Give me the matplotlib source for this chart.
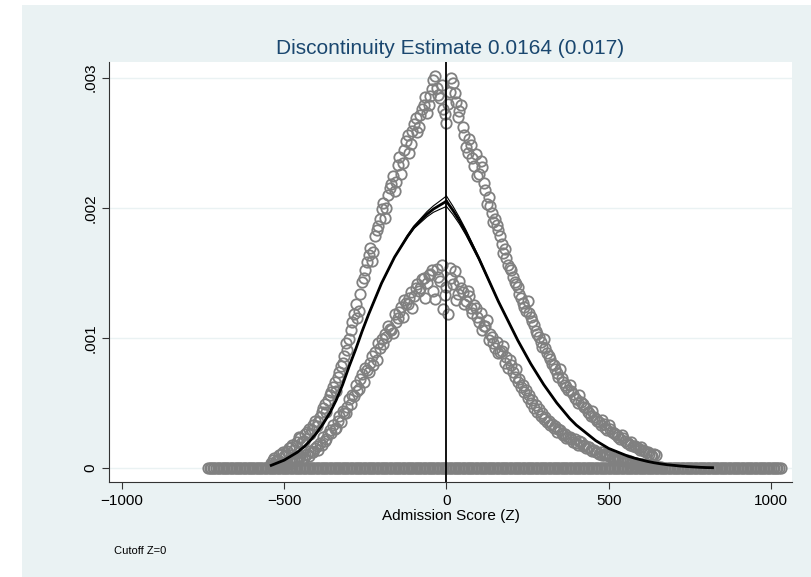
import matplotlib.pyplot as plt
import numpy as np
from matplotlib.patches import Rectangle

plt.rcParams['font.family'] = ['Liberation Sans', 'DejaVu Sans']

# Bin densities (units of 1e-4); two interleaved bin sets every 10 points
upper_start = -540
upper_vals = [0.4, 0.8, 0.6, 1.1, 0.9, 1.3, 1.6, 1.4, 2.0, 2.3, 2.1, 2.8, 2.6, 3.3, 3.2, 3.9, 4.6, 4.3, 5.6, 6.2,
              5.9, 7.4, 8.1, 9.6, 9.9, 11.2, 12.6, 12.1, 14.3, 15.2, 16.4, 15.9, 17.8, 18.6, 19.9, 19.2, 21.0, 21.8,
              21.3, 23.3, 22.6, 24.4, 25.6, 24.9, 26.4, 25.8, 27.1, 27.9, 27.3, 28.6, 29.8, 29.2, 28.4, 27.6, 26.5,
              28.9, 29.6, 28.1, 27.4, 26.2, 24.7, 25.3, 23.8, 24.1, 22.6, 23.1, 21.4, 20.8, 19.6, 19.1, 18.3, 17.2,
              16.8, 15.6, 15.2, 14.3, 13.9, 13.1, 12.4, 12.8, 11.6, 11.0, 10.3, 9.7, 9.9, 8.8, 8.4, 7.9, 7.3, 7.6,
              6.6, 6.2, 6.4, 5.7, 5.3, 5.6, 4.9, 4.6, 4.2, 4.4, 3.8, 3.5, 3.7, 3.1, 3.3, 2.8, 2.6, 2.4, 2.5, 2.1,
              1.9, 2.0, 1.7, 1.5, 1.6, 1.3, 1.2, 1.0, 1.1]
upper2_start = -535
upper2_vals = [0.6, 0.5, 1.0, 1.2, 1.0, 1.5, 1.8, 1.7, 2.4, 2.0, 2.6, 3.0, 2.9, 3.6, 3.5, 4.3, 4.9, 5.2, 5.8, 6.6,
               7.0, 7.8, 8.6, 9.1, 10.6, 11.8, 11.5, 13.4, 14.6, 15.8, 16.9, 16.6, 18.3, 19.1, 20.4, 20.0, 21.5,
               22.4, 22.0, 23.9, 23.4, 25.1, 24.2, 25.9, 26.9, 26.2, 27.6, 28.5, 27.9, 29.1, 30.1, 28.7, 29.4, 27.2,
               28.0, 30.0, 28.8, 27.0, 27.9, 25.6, 24.2, 24.8, 23.2, 22.4, 23.6, 21.9, 20.3, 20.1, 18.9, 18.7, 17.8,
               16.5, 16.1, 15.4, 14.7, 14.1, 13.4, 12.7, 12.1, 11.9, 11.3, 10.5, 10.1, 9.3, 9.2, 8.6, 8.0, 7.6, 7.0,
               6.9, 6.4, 6.0, 5.9, 5.4, 5.0, 5.1, 4.7, 4.3, 4.0, 3.9, 3.6, 3.3, 3.4, 2.9, 3.0, 2.7, 2.5, 2.2, 2.3,
               1.9, 1.8, 1.7, 1.6, 1.4, 1.4, 1.2, 1.1, 0.9, 1.0]
lower_start = -540
lower_vals = [0.2, 0.1, 0.3, 0.2, 0.4, 0.3, 0.6, 0.5, 0.7, 0.9, 0.8, 1.1, 1.3, 1.2, 1.7, 1.9, 2.4, 2.2, 2.9, 3.3,
              3.1, 4.0, 4.4, 4.2, 5.3, 5.6, 6.4, 6.1, 7.2, 7.7, 7.4, 8.6, 8.9, 9.6, 9.9, 10.3, 10.9, 10.6, 11.8,
              11.5, 12.4, 12.9, 12.6, 13.5, 13.2, 14.1, 13.8, 14.6, 14.2, 14.9, 13.6, 15.3, 14.4, 12.2, 13.9, 15.4,
              14.1, 12.9, 14.4, 13.5, 12.8, 13.2, 11.9, 12.3, 11.2, 10.6, 10.9, 9.8, 10.1, 9.2, 8.8, 9.0, 8.1, 7.7,
              7.9, 7.0, 6.6, 6.2, 5.8, 5.4, 5.0, 4.6, 4.3, 4.0, 3.8, 3.5, 3.3, 3.1, 2.8, 2.9, 2.5, 2.3, 2.4, 2.0,
              1.9, 2.1, 1.7, 1.5, 1.6, 1.3, 1.2, 1.1, 1.0, 1.1, 0.9, 0.8, 0.7, 0.8, 0.6, 0.5, 0.5, 0.4, 0.4, 0.3,
              0.3, 0.2, 0.2, 0.1, 0.2, 0.1, 0.1]
lower2_start = -535
lower2_vals = [0.1, 0.2, 0.2, 0.3, 0.3, 0.5, 0.4, 0.6, 0.8, 0.7, 1.0, 0.9, 1.2, 1.5, 1.4, 1.8, 2.1, 2.6, 2.7, 3.0,
               3.6, 3.5, 4.2, 4.7, 4.9, 5.5, 5.9, 6.8, 6.6, 7.5, 8.1, 7.9, 8.3, 9.2, 9.5, 10.1, 10.7, 10.4, 11.2,
               12.0, 11.6, 12.7, 13.1, 12.3, 13.8, 13.6, 14.5, 13.1, 14.8, 15.2, 13.0, 14.7, 15.6, 13.3, 11.8, 14.6,
               15.1, 13.4, 13.8, 12.6, 13.6, 12.3, 12.5, 11.6, 11.9, 10.9, 11.4, 10.3, 9.6, 9.7, 8.9, 9.4, 8.5, 8.3,
               7.4, 7.6, 6.8, 6.4, 6.0, 5.6, 5.2, 4.8, 4.5, 4.2, 3.9, 3.6, 3.4, 3.2, 3.0, 2.7, 2.6, 2.4, 2.2, 2.2,
               1.8, 2.0, 1.8, 1.6, 1.4, 1.4, 1.2, 1.2, 1.0, 1.0, 0.9, 0.8, 0.8, 0.7, 0.6, 0.6, 0.5, 0.4, 0.4, 0.3,
               0.3, 0.2, 0.2, 0.1, 0.1, 0.1]
# empty bins
zero_x = np.arange(-735, 1031, 5)

# fitted density (units of 1e-4), every 20 points
fit_left = [0.2, 0.4, 0.6, 0.9, 1.2, 1.6, 2.1, 2.7, 3.4, 4.2, 5.2, 6.4, 7.8, 9.1, 10.5, 11.8, 13.0, 14.2,
            15.2, 16.2, 17.0, 17.8, 18.5, 19.0, 19.5, 19.9, 20.2, 20.5]
fit_right = [20.5, 19.8, 19.0, 18.1, 17.1, 16.1, 15.0, 13.9, 12.8, 11.8, 10.8, 9.8, 8.9, 8.0, 7.2, 6.4, 5.7,
             5.0, 4.4, 3.8, 3.3, 2.9, 2.5, 2.1, 1.8, 1.5, 1.3, 1.1, 0.9, 0.75, 0.62, 0.5, 0.4, 0.32, 0.25, 0.2,
             0.15, 0.11, 0.08, 0.05, 0.03, 0.02]
se_left = [0.0] * 20 + [0.05, 0.08, 0.1, 0.15, 0.2, 0.25, 0.32, 0.4]
se_right = [0.4, 0.32, 0.25, 0.2, 0.15, 0.1, 0.08, 0.05] + [0.0] * 34

title = 'Discontinuity Estimate 0.0164 (0.017)'

sc = 1e-4
flx = -540 + 20 * np.arange(len(fit_left))
frx = 20 * np.arange(len(fit_right))

fig = plt.figure(figsize=(8.12, 5.77), dpi=100, facecolor='white')
fig.patches.append(Rectangle((22 / 812, 0), 1, 1 - 5 / 577, transform=fig.transFigure,
                             facecolor='#eaf2f3', edgecolor='none', zorder=-10))
ax = fig.add_axes([109 / 812, 1 - 482 / 577, (792 - 109) / 812, (482 - 62) / 577])

grey = '#808080'
mk = dict(marker='o', linestyle='none', markersize=7.5, markerfacecolor='none',
          markeredgecolor=grey, markeredgewidth=1.3)
ax.plot(zero_x, np.zeros(len(zero_x)), **mk)
for start, vals in [(lower_start, lower_vals), (lower2_start, lower2_vals),
                    (upper_start, upper_vals), (upper2_start, upper2_vals)]:
    xs = start + 10 * np.arange(len(vals))
    ax.plot(xs, np.array(vals) * sc, **mk)

for xs, f, s in [(flx, fit_left, se_left), (frx, fit_right, se_right)]:
    f = np.array(f); s = np.array(s)
    ax.plot(xs, (f + s) * sc, color='black', lw=0.8)
    ax.plot(xs, (f - s) * sc, color='black', lw=0.8)
    ax.plot(xs, f * sc, color='black', lw=2)
ax.axvline(0, color='black', lw=1.3)

ax.set_xlim(-1040, 1065)
ax.set_ylim(-0.000108, 0.00312)
ax.set_xticks([-1000, -500, 0, 500, 1000])
ax.set_yticks([0, 0.001, 0.002, 0.003])
ax.set_yticklabels(['0', '.001', '.002', '.003'], rotation=90, va='center')
ax.tick_params(labelsize=11, length=5, color='#333333')
ax.grid(axis='y', color='#eaf2f3', lw=1)
ax.set_axisbelow(True)
for s in ['top', 'right']:
    ax.spines[s].set_visible(False)
for s in ['left', 'bottom']:
    ax.spines[s].set_color('#333333')
ax.set_xlabel('Admission Score (Z)', fontsize=11, labelpad=1)
ax.set_title(title, fontsize=15, color='#1a476f', pad=6)
fig.text(114 / 812, 1 - 551 / 577, 'Cutoff Z=0', fontsize=8, va='center')

fig.savefig('out.png')
